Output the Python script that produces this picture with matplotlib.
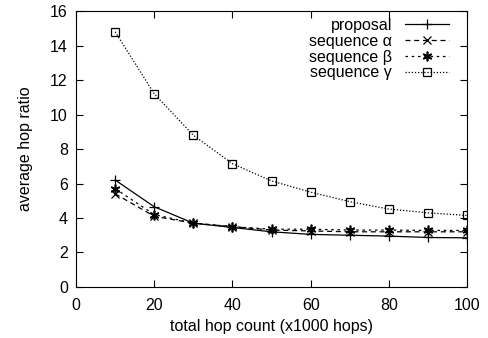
import matplotlib.pyplot as plt

plt.rcParams['font.family'] = ['Liberation Sans', 'DejaVu Sans']

hops = [10, 20, 30, 40, 50, 60, 70, 80, 90, 100]
proposal = [6.2, 4.65, 3.7, 3.45, 3.2, 3.05, 3.0, 2.95, 2.87, 2.85]
seq_alpha = [5.4, 4.1, 3.7, 3.5, 3.3, 3.25, 3.2, 3.2, 3.2, 3.2]
seq_beta = [5.7, 4.2, 3.7, 3.5, 3.35, 3.35, 3.3, 3.3, 3.28, 3.28]
seq_gamma = [14.8, 11.2, 8.8, 7.15, 6.15, 5.5, 4.95, 4.52, 4.3, 4.15]

fig = plt.figure(figsize=(4.88, 3.38), dpi=100)
ax = fig.add_axes([0.156, 0.151, 0.801, 0.816])

ax.plot(hops, proposal, color='black', lw=0.9, marker='+', ms=7, mew=0.9,
        label='proposal')
ax.plot(hops, seq_alpha, color='black', lw=0.9, ls=(0, (4, 3)), marker='x', ms=6, mew=0.9,
        label='sequence α')
ax.plot(hops, seq_beta, color='black', lw=0.9, ls=(0, (2, 3)), marker=(6, 2, 0), ms=7, mew=1.2,
        label='sequence β')
ax.plot(hops, seq_gamma, color='black', lw=0.9, ls=(0, (1, 1.5)), marker='s', ms=6, mew=0.9,
        mfc='none', label='sequence γ')

ax.set_xlim(0, 100)
ax.set_ylim(0, 16)
ax.set_xticks(range(0, 101, 20))
ax.set_yticks(range(0, 17, 2))
ax.tick_params(direction='in', top=True, right=True, labelsize=11.5, length=5)
ax.tick_params(axis='x', pad=8)
ax.tick_params(axis='y', pad=6)
ax.set_xlabel('total hop count (x1000 hops)', fontsize=11.5, labelpad=4)
ax.set_ylabel('average hop ratio', fontsize=11.5, labelpad=12)

ax.legend(loc='upper right', bbox_to_anchor=(0.955, 0.975), frameon=False,
          markerfirst=False, fontsize=11.5, handlelength=2.8, labelspacing=0.05,
          borderaxespad=0, borderpad=0, handletextpad=0.8)

fig.savefig('out.png', dpi=100)
